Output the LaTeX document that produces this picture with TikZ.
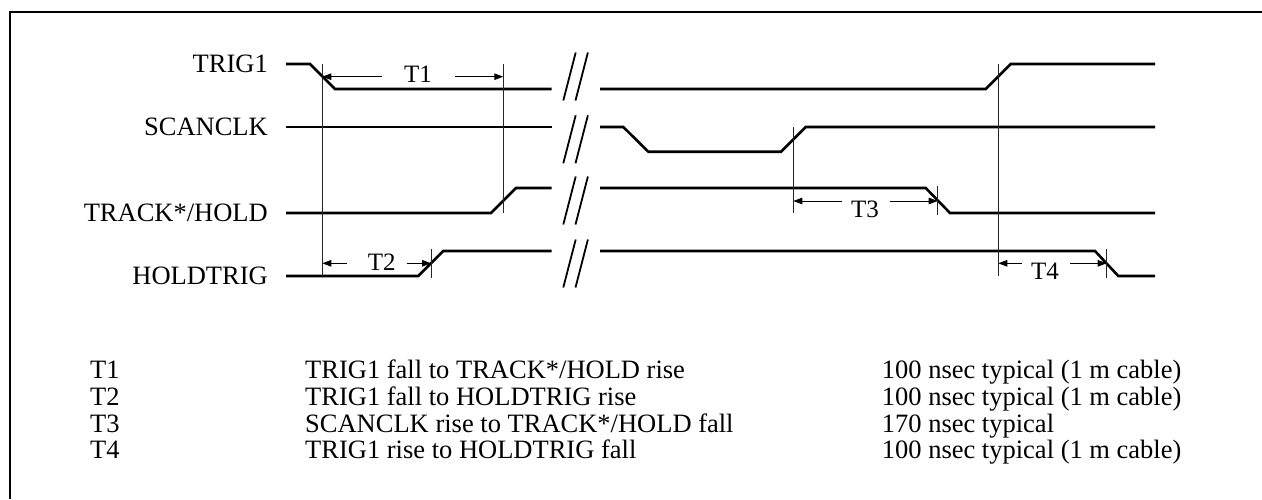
\documentclass[tikz,border=0pt]{standalone}
\usepackage{fontspec}
\setmainfont{Liberation Serif}
\usetikzlibrary{arrows.meta}
\begin{document}
\begin{tikzpicture}[x=1pt,y=-1pt,
  sig/.style={line width=2.6pt,line join=miter},
  brk/.style={line width=1.8pt},
  vline/.style={line width=0.9pt,black!85},
  dim/.style={line width=0.9pt,-{Triangle[length=9pt,width=6.5pt]}},
  lbl/.style={font=\fontsize{26.5}{30}\selectfont,inner sep=0pt,anchor=base east},
  tlbl/.style={font=\fontsize{25}{30}\selectfont,inner sep=0pt,anchor=base},
  row/.style={font=\fontsize{26.5}{30}\selectfont,inner sep=0pt,anchor=base west}]
\useasboundingbox (0,0) rectangle (1262,499);
% frame
\draw[line width=2pt] (1262,12) -- (10,12) -- (10,499);
% signal labels
\node[lbl] (trig) at (268,72.8) {TRIG1};
\node[lbl] (scan) at (268,135.8) {SCANCLK};
\node[lbl] (track) at (268,221.8) {TRACK*/HOLD};
\node[lbl] (hold) at (268,284.8) {HOLDTRIG};
% signals
\draw[sig] (286,64) -- (310,64) -- (335,89) -- (551.7,89);
\draw[sig] (600,89) -- (985.7,89) -- (1010.7,64) -- (1155,64);
\draw[sig] (286,127) -- (551.7,127);
\draw[sig] (600,127) -- (623.3,127) -- (648.3,151.7) -- (781,151.7) -- (805.7,127) -- (1155,127);
\draw[sig] (286,213) -- (491,213) -- (516,188) -- (551.7,188);
\draw[sig] (600,188) -- (925.7,188) -- (950,213) -- (1155,213);
\draw[sig] (286,276) -- (418.3,276) -- (443.3,251) -- (551.7,251);
\draw[sig] (600,251) -- (1095,251) -- (1118.3,276) -- (1155,276);
% break marks
\foreach \cy in {76.5,139.3,200.5,263.5}{
  \draw[brk] (563.3,\cy+24) -- (575.7,\cy-24);
  \draw[brk] (575.5,\cy+24) -- (587.9,\cy-24);
}
% reference verticals
\coordinate (v1t) at (322.3,64);  \coordinate (v1b) at (322.3,276);
\coordinate (v2t) at (503.3,64);  \coordinate (v2b) at (503.3,213);
\coordinate (v3t) at (431,249);   \coordinate (v3b) at (431,278);
\coordinate (v4t) at (793.3,127); \coordinate (v4b) at (793.3,213);
\coordinate (v5t) at (937.7,186); \coordinate (v5b) at (937.7,215);
\coordinate (v6t) at (998.3,64);  \coordinate (v6b) at (998.3,276);
\coordinate (v7t) at (1106.7,249);\coordinate (v7b) at (1106.7,278);
\foreach \v in {1,...,7}{\draw[vline] (v\v t) -- (v\v b);}
% T1
\node[tlbl] (t1) at (418,82.3) {T1};
\coordinate (t1l) at (381.7,76.7); \coordinate (t1r) at (455,76.7);
\draw[dim] (t1l) -- (v1t |- t1l);
\draw[dim] (t1r) -- (v2t |- t1r);
% T2
\node[tlbl] (t2) at (381.7,270.3) {T2};
\coordinate (t2l) at (346.7,263.3); \coordinate (t2r) at (406.7,263.3);
\draw[dim] (t2l) -- (v1t |- t2l);
\draw[dim] (t2r) -- (v3t |- t2r);
% T3
\node[tlbl] (t3) at (865,217.3) {T3};
\coordinate (t3l) at (841.7,201); \coordinate (t3r) at (890,201);
\draw[dim] (t3l) -- (v4t |- t3l);
\draw[dim] (t3r) -- (v5t |- t3r);
% T4
\node[tlbl] (t4) at (1045,279.3) {T4};
\coordinate (t4l) at (1021.7,263.3); \coordinate (t4r) at (1070,263.3);
\draw[dim] (t4l) -- (v6t |- t4l);
\draw[dim] (t4r) -- (v7t |- t4r);
% table
\node[row] (r1a) at (90,378.8) {T1};
\node[row] (r1b) at (305,378.8) {TRIG1 fall to TRACK*/HOLD rise};
\node[row] (r1c) at (881.7,378.8) {100 nsec typical (1 m cable)};
\node[row] (r2a) at (90,405.5) {T2};
\node[row] (r2b) at (305,405.5) {TRIG1 fall to HOLDTRIG rise};
\node[row] (r2c) at (881.7,405.5) {100 nsec typical (1 m cable)};
\node[row] (r3a) at (90,432.1) {T3};
\node[row] (r3b) at (305,432.1) {SCANCLK rise to TRACK*/HOLD fall};
\node[row] (r3c) at (881.7,432.1) {170 nsec typical};
\node[row] (r4a) at (90,458.8) {T4};
\node[row] (r4b) at (305,458.8) {TRIG1 rise to HOLDTRIG fall};
\node[row] (r4c) at (881.7,458.8) {100 nsec typical (1 m cable)};
\end{tikzpicture}
\end{document}
